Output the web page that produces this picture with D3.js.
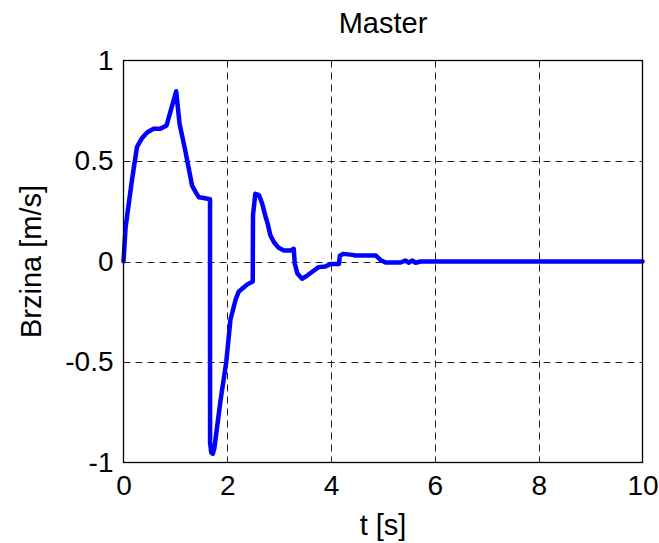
<!DOCTYPE html>
<html>
<head>
<meta charset="utf-8">
<script src="https://cdn.jsdelivr.net/npm/d3@7"></script>
<style>
  html, body { margin: 0; padding: 0; background: #fff; }
  svg { display: block; font-family: Arial, "Liberation Sans", sans-serif; }
</style>
</head>
<body>
<svg id="chart" width="659" height="543"></svg>
<script>
const titleText = "Master";
const xLabel = "t [s]";
const yLabel = "Brzina [m/s]";
const xTicks = [0, 2, 4, 6, 8, 10];
const yTicks = [-1, -0.5, 0, 0.5, 1];
const yTickLabels = ["-1", "-0.5", "0", "0.5", "1"];

const time = [0, 0.04, 0.16, 0.26, 0.36, 0.46, 0.58, 0.71, 0.83, 1.015, 1.08, 1.19, 1.29, 1.32, 1.39, 1.45, 1.52, 1.667,
  1.668, 1.69, 1.72, 1.75, 1.77, 1.87, 1.98, 2.06, 2.16, 2.22, 2.32, 2.38, 2.49,
  2.495, 2.54, 2.61, 2.67, 2.74, 2.77, 2.83, 2.90, 2.99, 3.09, 3.22, 3.28,
  3.30, 3.35, 3.44, 3.54, 3.67, 3.76, 3.89, 3.99, 4.15,
  4.17, 4.24, 4.41, 4.47, 4.86, 4.95, 5.05, 5.34, 5.43, 5.50, 5.56, 5.63, 5.72, 10];
const speed = [0, 0.17, 0.40, 0.57, 0.615, 0.643, 0.66, 0.66, 0.677, 0.847, 0.685, 0.552, 0.42, 0.378, 0.345, 0.32, 0.317, 0.31,
  -0.90, -0.95, -0.957, -0.93, -0.89, -0.69, -0.50, -0.29, -0.19, -0.15, -0.128, -0.115, -0.10,
  0.23, 0.337, 0.33, 0.29, 0.22, 0.196, 0.13, 0.096, 0.068, 0.055, 0.055, 0.063,
  -0.01, -0.06, -0.086, -0.07, -0.045, -0.028, -0.025, -0.012, -0.012,
  0.03, 0.038, 0.033, 0.03, 0.03, 0.008, -0.005, -0.005, 0.005, -0.006, 0.005, -0.006, 0, 0];

const svg = d3.select("#chart");
svg.append("rect").attr("width", 659).attr("height", 543).attr("fill", "#fff");

const L = 123.5, T = 60.5, R = 642.5, B = 462.5;
const x = d3.scaleLinear().domain([0, 10]).range([L, R]);
const y = d3.scaleLinear().domain([-1, 1]).range([B, T]);

const g = svg.append("g");

// grid
g.selectAll(".vgrid").data(xTicks.filter(d => d > 0 && d < 10)).enter().append("line")
  .attr("x1", d => Math.round(x(d)) + 0.5).attr("x2", d => Math.round(x(d)) + 0.5)
  .attr("y1", T).attr("y2", B)
  .attr("stroke", "#222").attr("stroke-width", 1).attr("stroke-dasharray", "7,5");
g.selectAll(".hgrid").data(yTicks.filter(d => d > -1 && d < 1)).enter().append("line")
  .attr("x1", L).attr("x2", R)
  .attr("y1", d => Math.round(y(d)) + 0.5).attr("y2", d => Math.round(y(d)) + 0.5)
  .attr("stroke", "#222").attr("stroke-width", 1).attr("stroke-dasharray", "7,5");

// axes via d3 axis (labels only, no tick lines)
const xAxis = d3.axisBottom(x).tickValues(xTicks).tickFormat(d3.format("d")).tickSize(0).tickPadding(13);
const gx = svg.append("g").attr("transform", `translate(0,${B})`).call(xAxis);
gx.select(".domain").remove();
gx.selectAll("text").attr("font-size", 28).attr("fill", "#000")
  .attr("font-family", "Arial, 'Liberation Sans', sans-serif");

const yAxis = d3.axisLeft(y).tickValues(yTicks).tickFormat((d, i) => yTickLabels[i]).tickSize(0).tickPadding(10);
const gy = svg.append("g").attr("transform", `translate(${L},0)`).call(yAxis);
gy.select(".domain").remove();
gy.selectAll("text").attr("font-size", 28).attr("fill", "#000")
  .attr("font-family", "Arial, 'Liberation Sans', sans-serif");

// line
const pts = time.map((t, i) => [t, speed[i]]);
const line = d3.line().x(d => x(d[0])).y(d => y(d[1]));
svg.append("path").datum(pts).attr("d", line)
  .attr("fill", "none").attr("stroke", "#0000ff").attr("stroke-width", 4.5)
  .attr("stroke-linejoin", "round").attr("stroke-linecap", "round");

// box
svg.append("rect").attr("x", L).attr("y", T).attr("width", R - L).attr("height", B - T)
  .attr("fill", "none").attr("stroke", "#000").attr("stroke-width", 1.3);

// labels
svg.append("text").attr("x", (L + R) / 2).attr("y", 33).attr("text-anchor", "middle")
  .attr("font-size", 29).text(titleText);
svg.append("text").attr("x", (L + R) / 2).attr("y", 535).attr("text-anchor", "middle")
  .attr("font-size", 29).text(xLabel);
svg.append("text").attr("transform", `translate(41,${(T + B) / 2}) rotate(-90)`)
  .attr("text-anchor", "middle").attr("font-size", 29).text(yLabel);
</script>
</body>
</html>
